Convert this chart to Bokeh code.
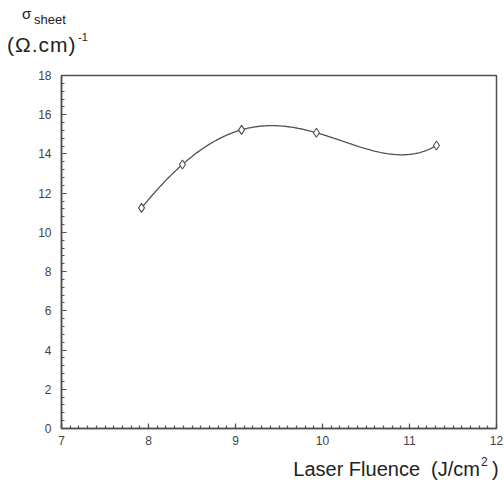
import numpy as np
from bokeh.plotting import figure
from bokeh.layouts import column
from bokeh.models import Range1d, LinearAxis, SingleIntervalTicker, Div
from bokeh.embed import file_html
from bokeh.resources import INLINE

# data
fluence = [7.92, 8.39, 9.07, 9.93, 11.31]
sigma = [11.25, 13.46, 15.23, 15.08, 14.43]

x_ticks = [7, 8, 9, 10, 11, 12]
y_ticks = [0, 2, 4, 6, 8, 10, 12, 14, 16, 18]

FONT = "Liberation Sans"
DARK = "#505050"
TXT = "#222222"

W = 504
TOP_H = 62          # header band with the y title
MAIN_H = 390        # plot with tick labels
BOT_H = 32          # band with the x title
LEFT, FTOP = 61, 13
FW, FH = 435, 353
ASC = 0.8465        # baseline offset (em) for line-height 1 in Liberation Sans


def span(text, size, baseline, left=None, right=None, spacing=0):
    top = baseline - ASC * size
    pos = f"left:{left}px;" if left is not None else f"right:{right}px;"
    return (f'<span style="position:absolute;{pos}top:{top:.1f}px;'
            f'font-family:\'{FONT}\';font-size:{size}px;line-height:1;'
            f'letter-spacing:{spacing}px;white-space:pre;color:{TXT};">{text}</span>')


def band(height, parts):
    html = (f'<div style="position:relative;width:{W}px;height:{height}px;'
            f'overflow:visible;">' + "".join(parts) + "</div>")
    return Div(text=html, width=W, height=height, margin=0)


# ---- header: sigma_sheet / (Ω.cm)^-1
top = band(TOP_H, [
    span("σ", 15, 19, left=22),
    span("sheet", 13, 24, left=34),
    span("(Ω.cm)", 21, 52, left=7, spacing=1),
    span("-1", 11, 41, left=78),
])

# ---- main plot
p = figure(width=W, height=MAIN_H, output_backend="svg", toolbar_location=None,
           x_range=Range1d(x_ticks[0], x_ticks[-1]), y_range=Range1d(y_ticks[0], y_ticks[-1]),
           x_axis_location=None, y_axis_location=None,
           min_border_left=LEFT, min_border_right=W - LEFT - FW,
           min_border_top=FTOP, min_border_bottom=MAIN_H - FTOP - FH)
p.frame_width = FW
p.frame_height = FH
p.outline_line_color = DARK
p.outline_line_width = 1.5
p.xgrid.visible = False
p.ygrid.visible = False
p.background_fill_color = "white"
p.border_fill_color = "white"

xa = LinearAxis(ticker=SingleIntervalTicker(interval=1, num_minor_ticks=10))
ya = LinearAxis(ticker=SingleIntervalTicker(interval=2, num_minor_ticks=5))
for ax in (xa, ya):
    ax.axis_line_color = DARK
    ax.axis_line_width = 1.5
    ax.major_tick_in = 5
    ax.major_tick_out = 0
    ax.minor_tick_in = 3
    ax.minor_tick_out = 0
    ax.major_tick_line_color = DARK
    ax.minor_tick_line_color = DARK
    ax.major_tick_line_width = 1.2
    ax.minor_tick_line_width = 1.2
    ax.major_label_text_font = FONT
    ax.major_label_text_font_size = "12px"
    ax.major_label_text_color = "#444444"
    ax.major_label_text_font_style = "normal"
xa.major_label_standoff = 7
ya.major_label_standoff = 10
p.add_layout(xa, "below")
p.add_layout(ya, "left")

# smoothed curve: 4th-order polynomial through the measured points
coef = np.polyfit(fluence, sigma, len(fluence) - 1)
sx = np.linspace(min(fluence), max(fluence), 300)
sy = np.polyval(coef, sx)
p.line(sx, sy, line_color=DARK, line_width=1.3)
p.scatter(fluence, sigma, marker="diamond", size=9, fill_color="white",
          line_color=DARK, line_width=1.1)

# ---- footer: x title
bot = band(BOT_H, [
    span("Laser Fluence  (J/cm", 20, 24, right=W - 480),
    span("2", 12, 14, left=481),
    span(")", 20, 24, left=492),
])

layout = column(top, p, bot, spacing=0)
open("out.html", "w").write(file_html(layout, INLINE))
